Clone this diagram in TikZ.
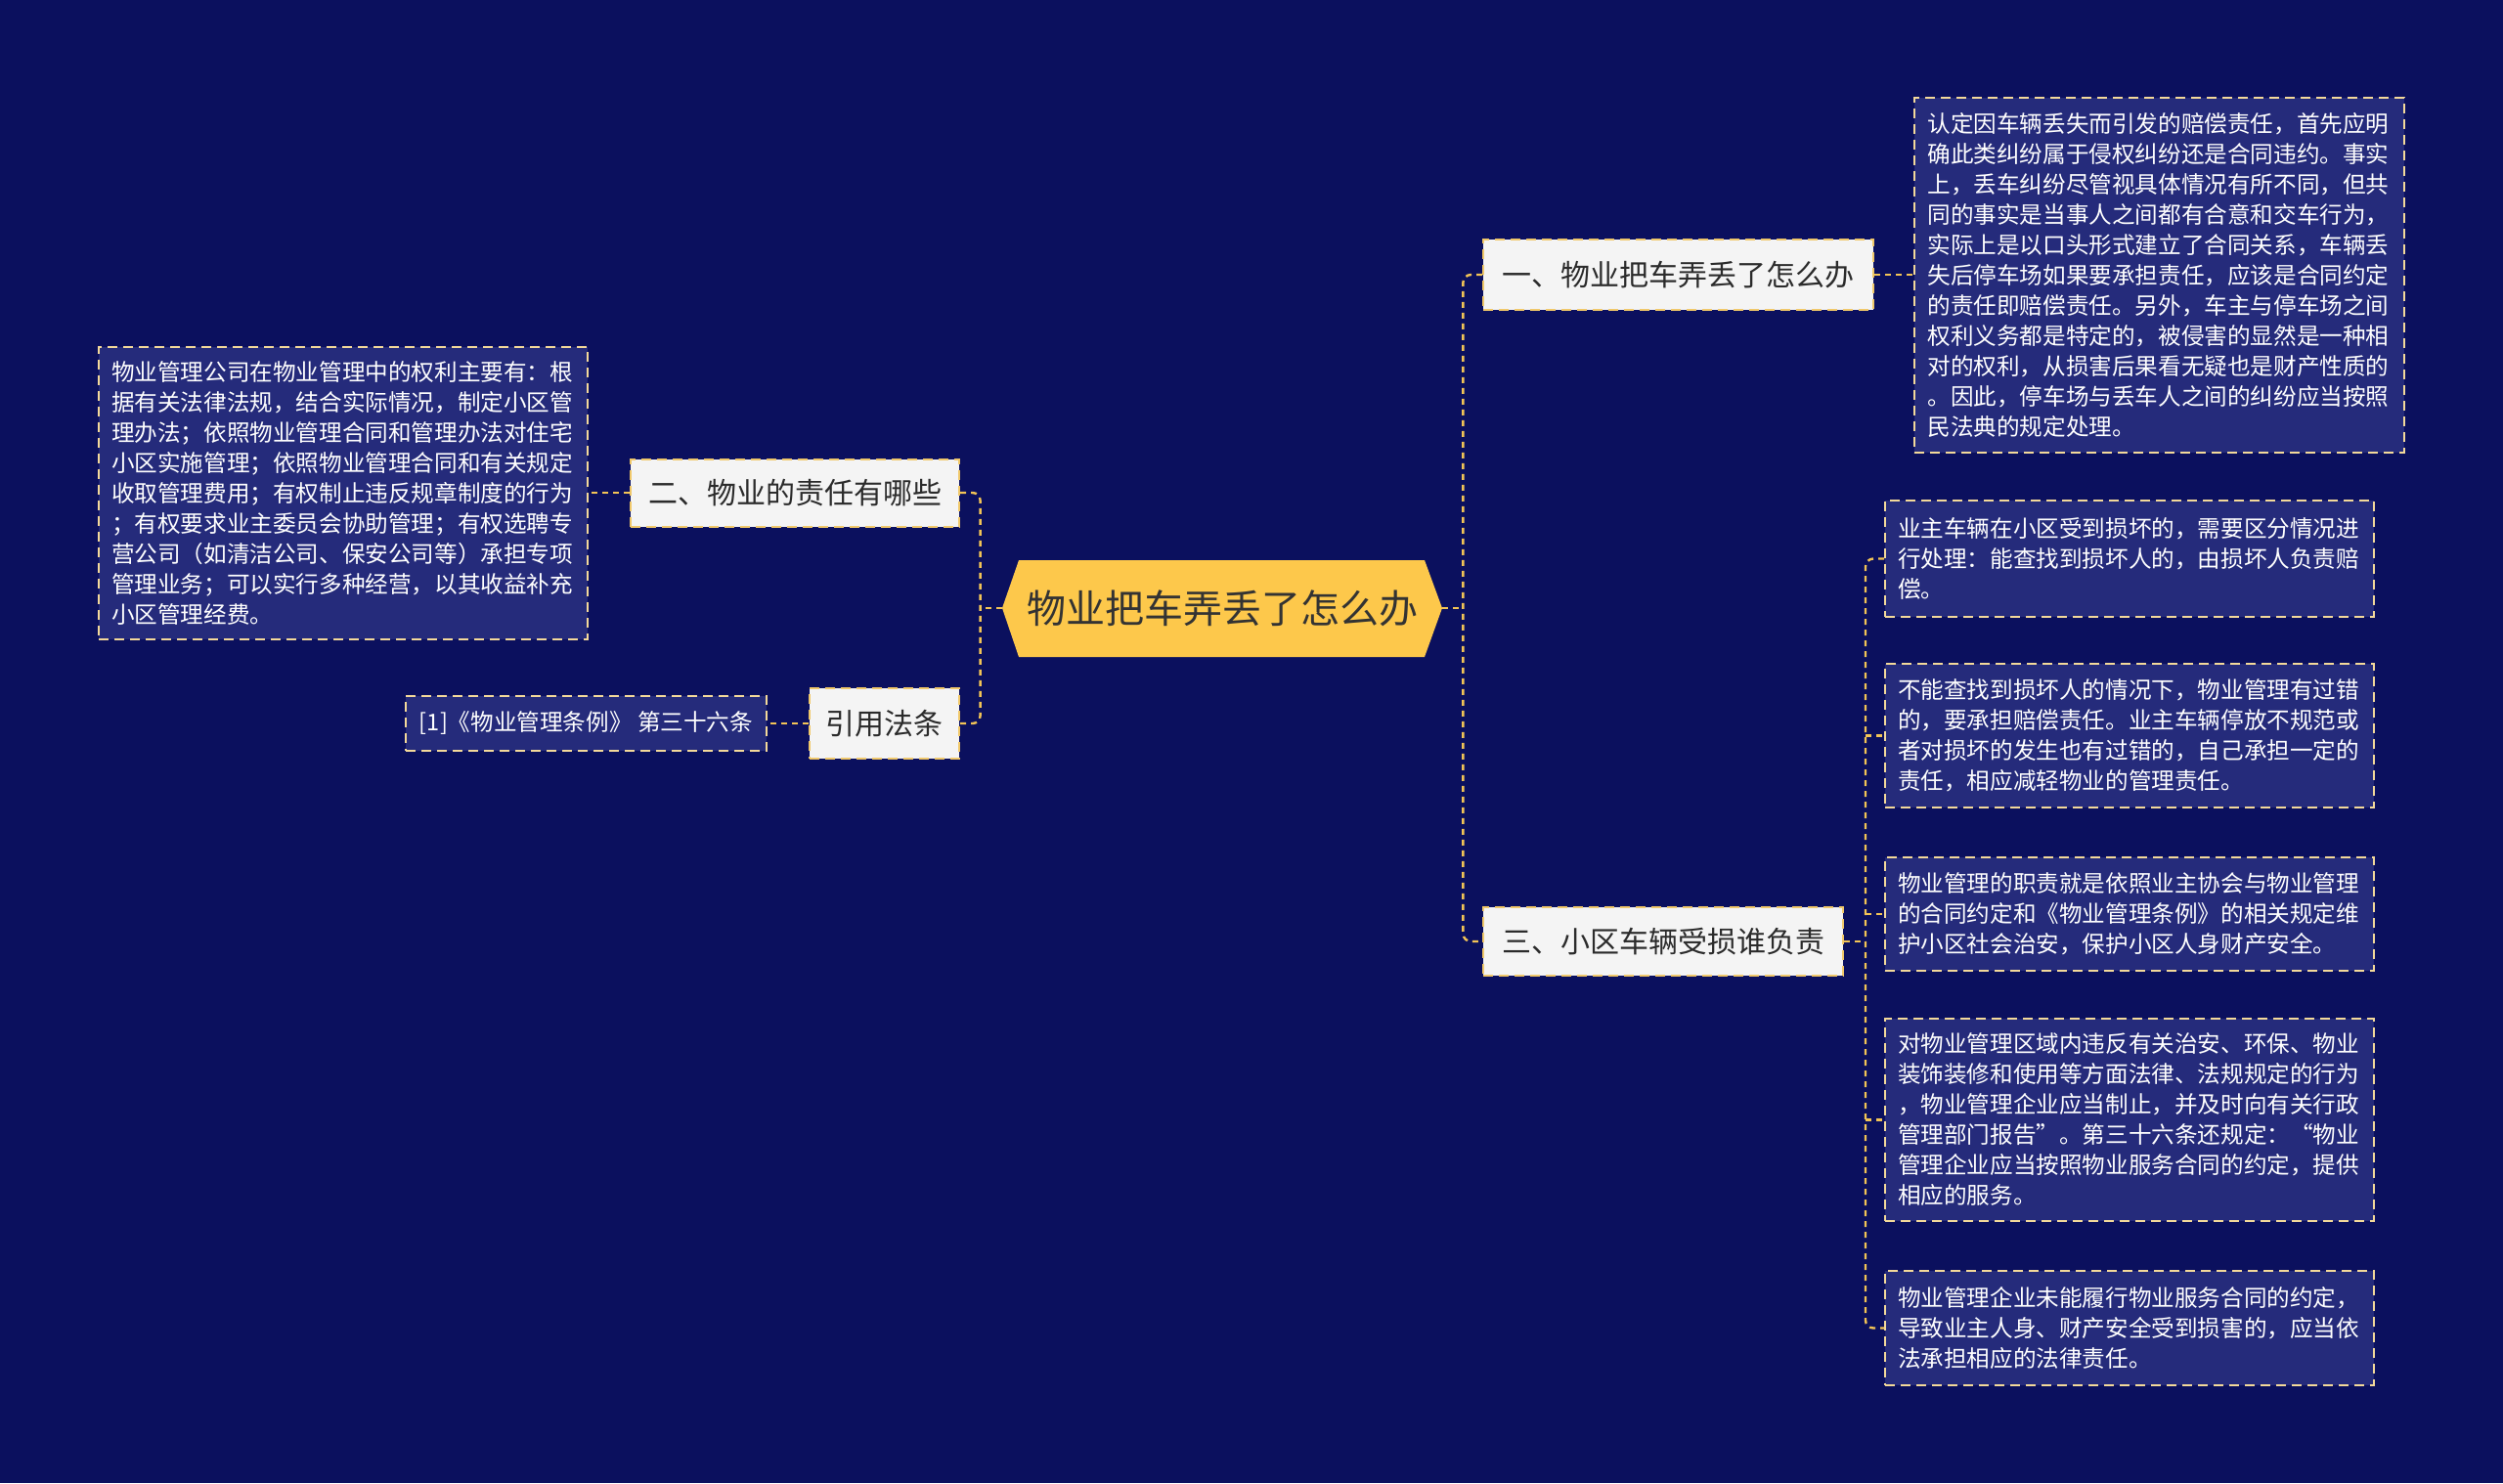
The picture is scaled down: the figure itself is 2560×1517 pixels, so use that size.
\documentclass[tikz,border=0pt]{standalone}
\usepackage{fontspec}
\newfontfamily\cjk{Noto Sans CJK SC}
\usetikzlibrary{calc}
\definecolor{bg}{HTML}{0B105E}
\definecolor{boxfill}{HTML}{252B7B}
\definecolor{boxborder}{HTML}{F3D99A}
\definecolor{conncol}{HTML}{F2C456}
\definecolor{topicfill}{HTML}{F4F4F4}
\definecolor{topicborder}{HTML}{F0C86A}
\definecolor{topictext}{HTML}{2B2B2B}
\definecolor{centerfill}{HTML}{FDC84B}
\definecolor{centertext}{HTML}{333333}
\begin{document}
\begin{tikzpicture}[x=0.5pt,y=-0.5pt,
  conn/.style={draw=conncol, line width=1.2pt, dash pattern=on 3pt off 2.5pt, rounded corners=4pt},
  textbox/.style={draw=boxborder, fill=boxfill, line width=1pt, dash pattern=on 5pt off 3pt, text=white,
    font=\cjk\fontsize{11.8pt}{15.5pt}\selectfont, align=left, inner sep=0pt},
  topic/.style={draw=topicborder, fill=topicfill, line width=1pt, dash pattern=on 5pt off 3pt, text=topictext,
    font=\cjk\fontsize{15pt}{18pt}\selectfont, inner sep=0pt}
]
\useasboundingbox (0,0) rectangle (2560,1517);
\fill[bg] (0,0) rectangle (2560,1517);

% center
\fill[centerfill] (1025,622) -- (1042,573) -- (1457,573) -- (1475,622) -- (1457,672) -- (1042,672) -- cycle;
\node[font=\cjk\fontsize{20pt}{24pt}\selectfont, text=centertext, minimum width=225pt, minimum height=49.5pt, inner sep=0pt] (c) at (1250,622) {物业把车弄丢了怎么办};

% topics
\node[topic, minimum width=199.5pt, minimum height=36pt] (n1) at (1716.5,281) {一、物业把车弄丢了怎么办};
\node[topic, minimum width=184pt, minimum height=35pt] (n3) at (1701,963) {三、小区车辆受损谁负责};
\node[topic, minimum width=168pt, minimum height=34.5pt] (n2) at (813,504) {二、物业的责任有哪些};
\node[topic, minimum width=76.5pt, minimum height=36pt] (n4) at (904.5,740) {引用法条};

% text boxes
\node[textbox, text width=237pt, minimum width=250.5pt, minimum height=181.5pt] (tl) at (2208.5,281) {认定因车辆丢失而引发的赔偿责任，首先应明\\确此类纠纷属于侵权纠纷还是合同违约。事实\\上，丢车纠纷尽管视具体情况有所不同，但共\\同的事实是当事人之间都有合意和交车行为，\\实际上是以口头形式建立了合同关系，车辆丢\\失后停车场如果要承担责任，应该是合同约定\\的责任即赔偿责任。另外，车主与停车场之间\\权利义务都是特定的，被侵害的显然是一种相\\对的权利，从损害后果看无疑也是财产性质的\\。因此，停车场与丢车人之间的纠纷应当按照\\民法典的规定处理。};

\node[textbox, text width=237pt, minimum width=250pt, minimum height=149.5pt] (lb) at (351,504) {物业管理公司在物业管理中的权利主要有：根\\据有关法律法规，结合实际情况，制定小区管\\理办法；依照物业管理合同和管理办法对住宅\\小区实施管理；依照物业管理合同和有关规定\\收取管理费用；有权制止违反规章制度的行为\\；有权要求业主委员会协助管理；有权选聘专\\营公司（如清洁公司、保安公司等）承担专项\\管理业务；可以实行多种经营，以其收益补充\\小区管理经费。};

\node[textbox, minimum width=184.5pt, minimum height=28pt] (cit) at (599.5,740) {[1]《物业管理条例》 第三十六条};

\node[textbox, text width=237pt, minimum width=250pt, minimum height=59.5pt] (r1) at (2178,571.5) {业主车辆在小区受到损坏的，需要区分情况进\\行处理：能查找到损坏人的，由损坏人负责赔\\偿。};
\node[textbox, text width=237pt, minimum width=250pt, minimum height=73.5pt] (r2) at (2178,752.5) {不能查找到损坏人的情况下，物业管理有过错\\的，要承担赔偿责任。业主车辆停放不规范或\\者对损坏的发生也有过错的，自己承担一定的\\责任，相应减轻物业的管理责任。};
\node[textbox, text width=237pt, minimum width=250pt, minimum height=58pt] (r3) at (2178,935) {物业管理的职责就是依照业主协会与物业管理\\的合同约定和《物业管理条例》的相关规定维\\护小区社会治安，保护小区人身财产安全。};
\node[textbox, text width=237pt, minimum width=250pt, minimum height=103.5pt] (r4) at (2178,1145.5) {对物业管理区域内违反有关治安、环保、物业\\装饰装修和使用等方面法律、法规规定的行为\\，物业管理企业应当制止，并及时向有关行政\\管理部门报告”。第三十六条还规定：“物业\\管理企业应当按照物业服务合同的约定，提供\\相应的服务。};
\node[textbox, text width=237pt, minimum width=250pt, minimum height=58.5pt] (r5) at (2178,1358.5) {物业管理企业未能履行物业服务合同的约定，\\导致业主人身、财产安全受到损害的，应当依\\法承担相应的法律责任。};

% connectors
\coordinate (tr) at ($(c.east)+(21,0)$);
\coordinate (tlft) at ($(c.west)+(-22,0)$);
\coordinate (t3) at ($(n3.east)+(22,0)$);
\draw[conn] (c.east) -- (tr);
\draw[conn] (n1.west) -| (tr) |- (n3.west);
\draw[conn] (c.west) -- (tlft);
\draw[conn] (n2.east) -| (tlft) |- (n4.east);
\draw[conn] (n1.east) -- (tl.west);
\draw[conn] (n2.west) -- (lb.east);
\draw[conn] (n4.west) -- (cit.east);
\draw[conn] (n3.east) -- (t3);
\draw[conn] (r1.west) -| (t3) |- (r5.west);
\draw[conn] (t3 |- r2.west) -- (r2.west);
\draw[conn] (t3 |- r3.west) -- (r3.west);
\draw[conn] (t3 |- r4.west) -- (r4.west);
\end{tikzpicture}
\end{document}
